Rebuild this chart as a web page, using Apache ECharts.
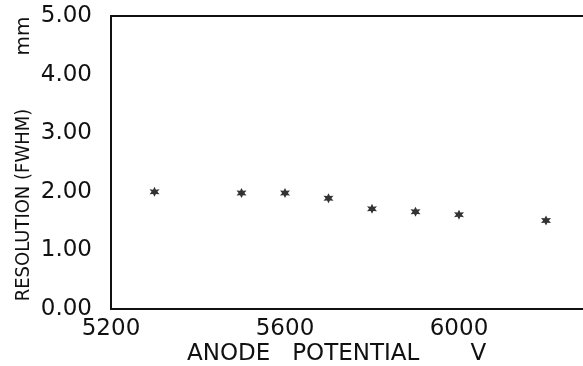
<!DOCTYPE html>
<html>
<head>
<meta charset="utf-8">
<script src="https://cdn.jsdelivr.net/npm/echarts@6/dist/echarts.min.js"></script>
<style>
html,body{margin:0;padding:0;background:#fff}
#chart{width:583px;height:366px}
</style>
</head>
<body>
<div id="chart"></div>
<script>
// anode potential (V) and resolution (mm FWHM)
const potential = [5300, 5500, 5600, 5700, 5800, 5900, 6000, 6200]
const resolution = [2.00, 1.98, 1.98, 1.89, 1.71, 1.66, 1.61, 1.51]
const yTicks = [0, 1, 2, 3, 4, 5]

const font = 'DejaVu Sans'
const star = 'path://M0,-1 L-0.25,-0.433 L-0.866,-0.5 L-0.5,0 L-0.866,0.5 L-0.25,0.433 L0,1 L0.25,0.433 L0.866,0.5 L0.5,0 L0.866,-0.5 L0.25,-0.433 Z'

var myChart = echarts.init(document.getElementById('chart'))
var option = {
  backgroundColor: '#fff',
  animation: false,
  grid: {
    left: 111, top: 16, right: -50, bottom: 57,
    outerBoundsMode: 'none',
    show: true, borderColor: '#111', borderWidth: 2, backgroundColor: 'transparent'
  },
  xAxis: {
    type: 'value',
    min: 5200, max: 6400, interval: 400,
    axisLine: {show: false},
    axisTick: {show: false},
    splitLine: {show: false},
    axisLabel: {color: '#111', fontFamily: font, fontSize: 23, margin: 9, formatter: v => String(v)}
  },
  yAxis: {
    type: 'value',
    min: yTicks[0], max: yTicks[yTicks.length - 1], interval: 1,
    axisLine: {show: false},
    axisTick: {show: false},
    splitLine: {show: false},
    axisLabel: {
      color: '#111', fontFamily: font, fontSize: 23, margin: 19,
      formatter: v => v.toFixed(2)
    }
  },
  graphic: [
    {type: 'text', left: 187, top: 343,
      style: {text: 'ANODE   POTENTIAL       V', fill: '#111', font: '23px "DejaVu Sans"'}},
    {type: 'text', x: 14, y: 205, rotation: Math.PI / 2,
      style: {text: 'RESOLUTION (FWHM)', fill: '#111', font: '20px "DejaVu Sans Condensed"', align: 'center', verticalAlign: 'top'}},
    {type: 'text', x: 14, y: 36, rotation: Math.PI / 2,
      style: {text: 'mm', fill: '#111', font: '20px "DejaVu Sans"', align: 'center', verticalAlign: 'top'}}
  ],
  series: [{
    type: 'scatter',
    data: potential.map((p, i) => [p, resolution[i]]),
    symbol: star,
    symbolSize: 10,
    itemStyle: {color: '#000'}
  }]
}
myChart.setOption(option)
</script>
</body>
</html>
